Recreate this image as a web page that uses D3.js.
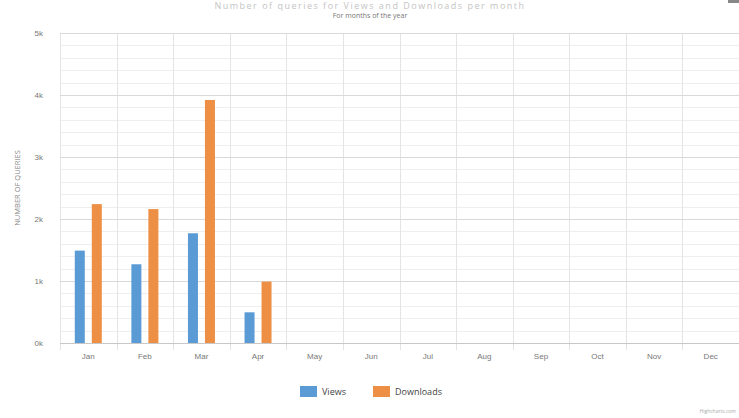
<!DOCTYPE html>
<html>
<head>
<meta charset="utf-8">
<script src="https://cdn.jsdelivr.net/npm/d3@7"></script>
<style>
  html, body { margin: 0; padding: 0; background: #fff; }
  svg { display: block; font-family: "Open Sans", "DejaVu Sans", sans-serif; }
</style>
</head>
<body>
<svg id="chart" width="739" height="418"></svg>
<script>
// Monthly query counts per series
const months = ["Jan", "Feb", "Mar", "Apr", "May", "Jun", "Jul", "Aug", "Sep", "Oct", "Nov", "Dec"];
const views = [1490, 1270, 1770, 495, null, null, null, null, null, null, null, null];
const downloads = [2240, 2160, 3920, 990, null, null, null, null, null, null, null, null];
const seriesNames = ["Views", "Downloads"];
const seriesColors = ["#5b9bd5", "#ed8f45"];
const yTicks = [0, 1000, 2000, 3000, 4000, 5000];
const yTickLabels = ["0k", "1k", "2k", "3k", "4k", "5k"];

const svg = d3.select("#chart");
const plot = { left: 60, right: 739, top: 33, bottom: 343 };

const x = d3.scaleBand().domain(months).range([plot.left, plot.right]);
const y = d3.scaleLinear().domain([0, 5000]).range([plot.bottom, plot.top]);

// Titles
svg.append("text")
  .attr("x", 370).attr("y", 9)
  .attr("text-anchor", "middle")
  .attr("font-size", 9).attr("letter-spacing", 1.5).attr("fill", "#c4c4c4")
  .text("Number of queries for Views and Downloads per month");
svg.append("text")
  .attr("x", 370).attr("y", 18)
  .attr("text-anchor", "middle")
  .attr("font-size", 7).attr("fill", "#777")
  .text("For months of the year");

// Menu button corner
svg.append("rect").attr("x", 728).attr("y", 0).attr("width", 11).attr("height", 3).attr("fill", "#888");

// Minor horizontal grid
const minor = d3.range(0, 5001, 200).filter(v => v % 1000 !== 0);
svg.append("g").selectAll("line").data(minor).join("line")
  .attr("x1", plot.left).attr("x2", plot.right)
  .attr("y1", d => Math.round(y(d)) + 0.5).attr("y2", d => Math.round(y(d)) + 0.5)
  .attr("stroke", "#eeeeee").attr("stroke-width", 1);

// Vertical grid at category boundaries
const bounds = months.map(m => x(m)).concat([plot.right]);
svg.append("g").selectAll("line").data(bounds).join("line")
  .attr("x1", d => Math.round(d) + 0.5).attr("x2", d => Math.round(d) + 0.5)
  .attr("y1", plot.top).attr("y2", plot.bottom + 7)
  .attr("stroke", "#e4e4e4").attr("stroke-width", 1);

// Major horizontal grid
svg.append("g").selectAll("line").data(yTicks).join("line")
  .attr("x1", plot.left).attr("x2", plot.right)
  .attr("y1", d => Math.round(y(d)) + 0.5).attr("y2", d => Math.round(y(d)) + 0.5)
  .attr("stroke", d => d === 0 ? "#c8c8c8" : "#d9d9d9").attr("stroke-width", 1);

// Y axis labels
const yAxis = d3.axisLeft(y).tickValues(yTicks)
  .tickFormat((d, i) => yTickLabels[i]).tickSize(0).tickPadding(17);
const yg = svg.append("g").attr("transform", `translate(${plot.left},0)`).call(yAxis);
yg.select(".domain").remove();
yg.selectAll("text").attr("font-size", 8).attr("fill", "#777").attr("font-family", "inherit");

// Y axis title
svg.append("text")
  .attr("transform", `translate(20,${(plot.top + plot.bottom) / 2}) rotate(-90)`)
  .attr("text-anchor", "middle")
  .attr("font-size", 7.5).attr("fill", "#888")
  .text("NUMBER OF QUERIES");

// X axis labels
const xAxis = d3.axisBottom(x).tickSize(0).tickPadding(10);
const xg = svg.append("g").attr("transform", `translate(0,${plot.bottom})`).call(xAxis);
xg.select(".domain").remove();
xg.selectAll("text").attr("font-size", 8).attr("fill", "#777").attr("font-family", "inherit");

// Bars
const barW = 10;
const offsets = [-13.5, 3.5];
[views, downloads].forEach((vals, si) => {
  svg.append("g").selectAll("rect")
    .data(months.map((m, i) => ({ m, v: vals[i] })).filter(d => d.v != null))
    .join("rect")
    .attr("x", d => x(d.m) + x.bandwidth() / 2 + offsets[si])
    .attr("y", d => y(d.v))
    .attr("width", barW)
    .attr("height", d => y(0) - y(d.v))
    .attr("fill", seriesColors[si]);
});

// Legend
const legendItems = [{ x: 300, w: 17 }, { x: 373, w: 17 }];
legendItems.forEach((it, i) => {
  svg.append("rect").attr("x", it.x).attr("y", 386).attr("width", it.w).attr("height", 11)
    .attr("fill", seriesColors[i]);
  svg.append("text").attr("x", it.x + it.w + 5).attr("y", 395)
    .attr("font-size", 9).attr("fill", "#444")
    .text(seriesNames[i]);
});

// Credits
svg.append("text").attr("x", 736).attr("y", 413).attr("text-anchor", "end")
  .attr("font-size", 5).attr("fill", "#aaa").text("Highcharts.com");
</script>
</body>
</html>
